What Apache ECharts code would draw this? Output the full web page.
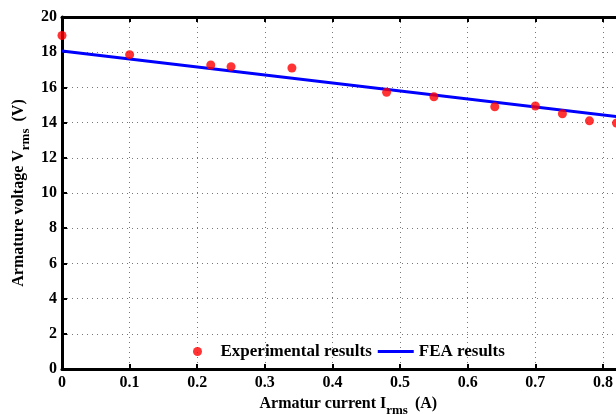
<!DOCTYPE html>
<html><head><meta charset="utf-8">
<script src="https://cdn.jsdelivr.net/npm/echarts@6/dist/echarts.min.js"></script>
<style>html,body{margin:0;padding:0;background:#fff}#c{width:616px;height:414px}</style>
</head><body><div id="c"></div>
<script>
var expCurrent = [0, 0.1, 0.22, 0.25, 0.34, 0.48, 0.55, 0.64, 0.70, 0.74, 0.78, 0.82];
var expVoltage = [18.95, 17.86, 17.27, 17.18, 17.1, 15.72, 15.47, 14.9, 14.94, 14.5, 14.1, 13.98];
var feaCurrent = [0, 0.82, 0.9];
var feaVoltage = [18.07, 14.34, 13.98];
var xTicks = [0, 0.1, 0.2, 0.3, 0.4, 0.5, 0.6, 0.7, 0.8];
var yTicks = [0, 2, 4, 6, 8, 10, 12, 14, 16, 18, 20];

var FONT = 'Liberation Serif';
var chart = echarts.init(document.getElementById('c'));
var expData = expCurrent.map(function(x, i){ return [x, expVoltage[i]]; });
var feaData = feaCurrent.map(function(x, i){ return [x, feaVoltage[i]]; });
var grid = {left: 62, top: 17, bottom: 45, right: -54.6, outerBoundsMode: 'none', containLabel: false};
chart.setOption({
  animation: false,
  backgroundColor: '#fff',
  grid: grid,
  legend: {
    left: 188, top: 338, itemWidth: 36, itemHeight: 9, itemGap: 6,
    textStyle: {fontFamily: FONT, fontWeight: 'bold', fontSize: 17, color: '#000'},
    data: [
      {name: 'Experimental results', icon: 'circle'},
      {name: 'FEA results', icon: 'path://M0,0 L36,0 L36,3 L0,3 Z'}
    ]
  },
  xAxis: [{
    type: 'value', min: 0, max: 0.9, interval: 0.1, position: 'bottom',
    name: 'Armatur current I{s|rms} (A)', nameLocation: 'middle', nameGap: 16,
    nameTextStyle: {fontFamily: FONT, fontWeight: 'bold', fontSize: 16, color: '#000', padding: [0, 36, 0, 0],
      rich: {s: {fontFamily: FONT, fontWeight: 'bold', fontSize: 13, color: '#000', padding: [14, 3, 0, 0]}}},
    axisLine: {show: true, onZero: false, lineStyle: {color: '#000', width: 3}},
    axisTick: {show: true, inside: true, length: 5, lineStyle: {color: '#000', width: 2}},
    axisLabel: {fontFamily: FONT, fontWeight: 'bold', fontSize: 16, color: '#000', margin: 6,
      showMaxLabel: false,
      formatter: function(v){ var t = xTicks.filter(function(k){return Math.abs(k - v) < 1e-9;}); return t.length ? String(t[0]) : ''; }},
    splitLine: {show: true, lineStyle: {color: '#777', type: [1, 4], width: 1}}
  }, {
    type: 'value', min: 0, max: 0.9, interval: 0.1, position: 'top',
    axisLine: {show: true, onZero: false, lineStyle: {color: '#000', width: 3}},
    axisTick: {show: true, inside: true, length: 5, lineStyle: {color: '#000', width: 2}},
    axisLabel: {show: false}, splitLine: {show: false}
  }],
  yAxis: {
    type: 'value', min: 0, max: 20, interval: 2,
    name: 'Armature voltage V{s|rms} (V)', nameLocation: 'middle', nameGap: 30, nameRotate: 90,
    nameMoveOverlap: false,
    nameTextStyle: {fontFamily: FONT, fontWeight: 'bold', fontSize: 16, color: '#000',
      rich: {s: {fontFamily: FONT, fontWeight: 'bold', fontSize: 13, color: '#000', padding: [14, 3, 0, 0]}}},
    axisLine: {show: true, onZero: false, lineStyle: {color: '#000', width: 3}},
    axisTick: {show: true, inside: true, length: 5, lineStyle: {color: '#000', width: 2}},
    axisLabel: {fontFamily: FONT, fontWeight: 'bold', fontSize: 16, color: '#000', margin: 5,
      formatter: function(v){ return yTicks.indexOf(v) >= 0 ? String(v) : ''; }},
    splitLine: {show: true, lineStyle: {color: '#777', type: [1, 4], width: 1}}
  },
  series: [
    {name: 'Experimental results', type: 'scatter', data: expData, symbolSize: 9,
      itemStyle: {color: '#ff0000'}, z: 3},
    {name: 'FEA results', type: 'line', data: feaData, showSymbol: false, symbol: 'none',
      lineStyle: {color: '#0000ff', width: 3}, itemStyle: {color: '#0000ff'}, z: 2}
  ]
});
</script></body></html>
